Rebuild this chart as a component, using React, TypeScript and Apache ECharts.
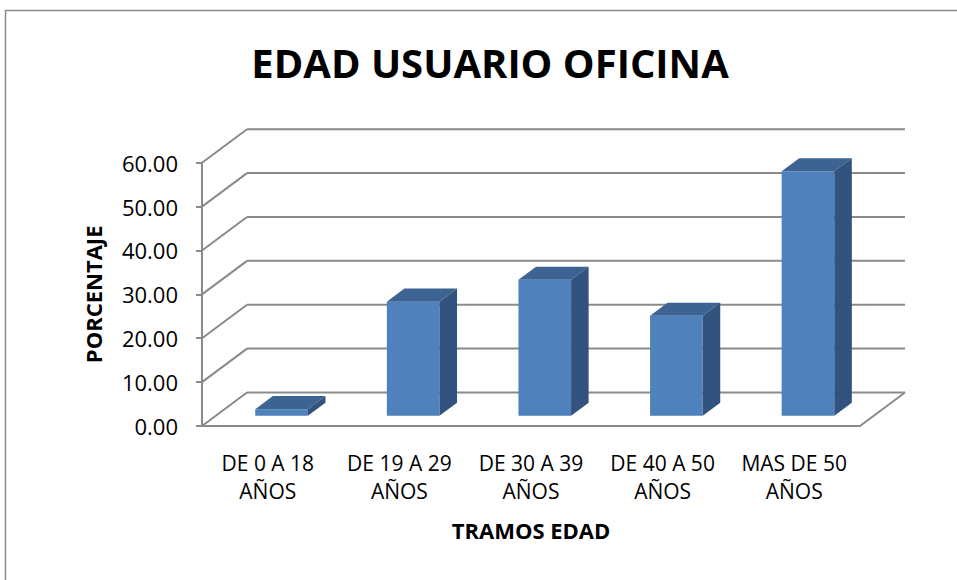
import React, { useEffect, useRef } from "react";
import * as echarts from "echarts";

const titleText = "EDAD USUARIO OFICINA";
const categories = [
  "DE 0 A 18\nAÑOS",
  "DE 19 A 29\nAÑOS",
  "DE 30 A 39\nAÑOS",
  "DE 40 A 50\nAÑOS",
  "MAS DE 50\nAÑOS",
];
const values = [1.5, 26.0, 31.0, 22.8, 55.7];
const yTicks = [0, 10, 20, 30, 40, 50, 60];
const xAxisTitle = "TRAMOS EDAD";
const yAxisTitle = "PORCENTAJE";

const FONT = "'Open Sans', 'Noto Sans', sans-serif";
const GRID_COLOR = "#8a8a8a";
const DX = 45;
const DY = -33.5;

export default function App() {
  const ref = useRef<HTMLDivElement>(null);
  useEffect(() => {
    if (!ref.current) return;
    const chart = echarts.init(ref.current, undefined, { renderer: "svg" });
    const option: any = {
      animation: false,
      backgroundColor: "#ffffff",
      textStyle: { fontFamily: FONT },
      title: {
        text: titleText,
        left: 485,
        textAlign: "center",
        top: 37,
        textStyle: { fontFamily: FONT, fontSize: 40, fontWeight: "bold", color: "#000" },
      },
      graphic: [
        {
          type: "rect",
          shape: { x: 5.5, y: 10.5, width: 1000, height: 1000 },
          style: { fill: "none", stroke: "#8a8a8a", lineWidth: 1.5 },
          silent: true,
        },
      ],
      grid: { left: 202, top: 162.7, right: 97, bottom: 154, containLabel: false },
      xAxis: {
        type: "category",
        data: categories,
        axisLine: { show: true, lineStyle: { color: GRID_COLOR, width: 2 } },
        axisTick: { show: false },
        axisLabel: {
          interval: 0,
          fontFamily: FONT,
          fontSize: 21,
          lineHeight: 28,
          color: "#000",
          margin: 23,
        },
        name: xAxisTitle,
        nameLocation: "middle",
        nameGap: 93,
        nameTextStyle: { fontFamily: FONT, fontSize: 22, fontWeight: "bold", color: "#000" },
        splitLine: { show: false },
      },
      yAxis: {
        type: "value",
        min: 0,
        max: 60,
        interval: 10,
        axisLine: { show: true, lineStyle: { color: GRID_COLOR, width: 2 } },
        axisTick: { show: true, length: 6, lineStyle: { color: GRID_COLOR, width: 2 } },
        axisLabel: {
          formatter: (v: number) => v.toFixed(2),
          fontFamily: FONT,
          fontSize: 22,
          color: "#000",
          margin: 24,
        },
        splitLine: { show: false },
        name: yAxisTitle,
        nameLocation: "middle",
        nameRotate: 90,
        nameGap: 98,
        nameTextStyle: { fontFamily: FONT, fontSize: 22, fontWeight: "bold", color: "#000" },
      },
      series: [
        {
          type: "custom",
          z: 1,
          silent: true,
          data: yTicks.map((t) => [0, t]),
          encode: { x: 0, y: 1 },
          renderItem: (params: any, api: any) => {
            const cs = params.coordSys;
            const v = api.value(1);
            const y = api.coord([0, v])[1];
            const x0 = cs.x;
            const x1 = cs.x + cs.width;
            const style = { stroke: GRID_COLOR, lineWidth: 2, fill: "none" };
            const children: any[] = [
              { type: "line", shape: { x1: x0, y1: y, x2: x0 + DX, y2: y + DY }, style },
              { type: "line", shape: { x1: x0 + DX, y1: y + DY, x2: x1 + DX, y2: y + DY }, style },
            ];
            if (v === 0) {
              children.push({ type: "line", shape: { x1: x1, y1: y, x2: x1 + DX, y2: y + DY }, style });
            }
            return { type: "group", children };
          },
        },
        {
          type: "custom",
          z: 2,
          data: values.map((v, i) => [i, v]),
          encode: { x: 0, y: 1 },
          renderItem: (params: any, api: any) => {
            const cat = api.value(0);
            const val = api.value(1);
            const base = api.coord([cat, 0]);
            const top = api.coord([cat, val]);
            const bandW = api.size([1, 0])[0];
            const w = bandW * 0.4;
            const off = 0.306;
            const bd = 0.39;
            const fx = base[0] - w / 2 + DX * off;
            const fyB = base[1] + DY * off;
            const fyT = top[1] + DY * off;
            const bdx = DX * bd;
            const bdy = DY * bd;
            return {
              type: "group",
              children: [
                {
                  type: "polygon",
                  shape: { points: [[fx, fyT], [fx + w, fyT], [fx + w, fyB], [fx, fyB]] },
                  style: { fill: "#4F81BD" },
                },
                {
                  type: "polygon",
                  shape: { points: [[fx, fyT], [fx + bdx, fyT + bdy], [fx + w + bdx, fyT + bdy], [fx + w, fyT]] },
                  style: { fill: "#3D6392" },
                },
                {
                  type: "polygon",
                  shape: { points: [[fx + w, fyT], [fx + w + bdx, fyT + bdy], [fx + w + bdx, fyB + bdy], [fx + w, fyB]] },
                  style: { fill: "#31537D" },
                },
              ],
            };
          },
        },
      ],
    };
    chart.setOption(option);
    return () => chart.dispose();
  }, []);
  return (
    <div
      ref={ref}
      style={{ position: "fixed", left: 0, top: 0, width: 957, height: 580, background: "#fff" }}
    />
  );
}
